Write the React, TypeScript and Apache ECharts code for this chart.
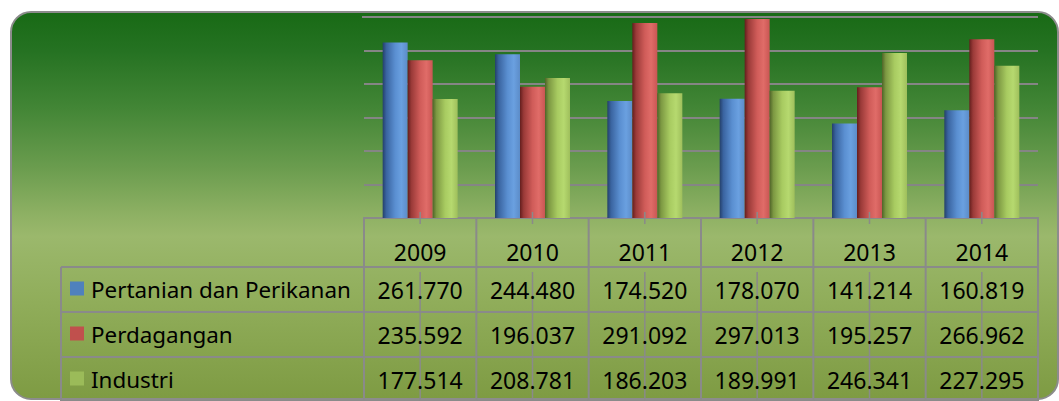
import React, { useEffect, useRef } from "react";
import * as echarts from "echarts";

const years = ["2009", "2010", "2011", "2012", "2013", "2014"];
const seriesNames = ["Pertanian dan Perikanan", "Perdagangan", "Industri"];
const pertanian = [261.77, 244.48, 174.52, 178.07, 141.214, 160.819];
const perdagangan = [235.592, 196.037, 291.092, 297.013, 195.257, 266.962];
const industri = [177.514, 208.781, 186.203, 189.991, 246.341, 227.295];
const yMin = 0;
const yMax = 300;
const yInterval = 50;

const legendColors = ["#4f81bd", "#c0504d", "#9bbb59"];
const barStops = [
  ["#24406a", "#3a64a0", "#5a8fd1", "#6aa0e0", "#5c8cc8"],
  ["#641e1d", "#9a3a38", "#d05c59", "#e06c68", "#c95653"],
  ["#4f6428", "#7c9842", "#a8cb61", "#b6d96f", "#9fbf5c"],
];

const FONT = '"Noto Sans", "Open Sans", sans-serif';
const FS = 23;
const FS_LEGEND = 22.4;
const LINE = "#8a8a8a";

function grad(stops: string[]) {
  return new echarts.graphic.LinearGradient(1, 0, 0, 0, [
    { offset: 0, color: stops[4] },
    { offset: 0.25, color: stops[3] },
    { offset: 0.5, color: stops[2] },
    { offset: 0.85, color: stops[1] },
    { offset: 1, color: stops[0] },
  ]);
}

export default function App() {
  const ref = useRef<HTMLDivElement>(null);
  useEffect(() => {
    if (!ref.current) return;
    const chart = echarts.init(ref.current, undefined, { renderer: "svg" });
    const allSeries = [pertanian, perdagangan, industri];
    chart.setOption({
      animation: false,
      grid: { left: 364, right: 21, top: 17, bottom: 183, containLabel: false },
      xAxis: {
        type: "category",
        data: years,
        axisLine: { show: true, lineStyle: { color: LINE, width: 2 } },
        axisTick: { show: false },
        axisLabel: {
          show: true,
          margin: 34,
          verticalAlign: "middle",
          color: "#000",
          fontFamily: FONT,
          fontSize: FS,
        },
        splitLine: { show: false },
      },
      yAxis: {
        type: "value",
        min: yMin,
        max: yMax,
        interval: yInterval,
        axisLine: { show: false },
        axisTick: { show: false },
        axisLabel: { show: false },
        splitLine: { show: true, lineStyle: { color: "#858585", width: 2 } },
      },
      series: allSeries.map((d, i) => ({
        name: seriesNames[i],
        type: "bar",
        data: d,
        barWidth: 25,
        barGap: "0%",
        itemStyle: { color: grad(barStops[i]) },
        z: 3,
      })),
    });

    const cx = years.map((y) => chart.convertToPixel({ xAxisIndex: 0 }, y) as number);
    const bw = cx.length > 1 ? cx[1] - cx[0] : 112;
    const axisY = chart.convertToPixel({ yAxisIndex: 0 }, 0) as number;
    const headerBottom = 267;
    const rowH = 45;
    const tableLeft = 61;
    const tableBottom = 402;
    const leftX = cx[0] - bw / 2;
    const rightX = cx[cx.length - 1] + bw / 2;

    const g: any[] = [];
    g.push({
      type: "rect",
      z: -100,
      shape: { x: 11, y: 12, width: 1047, height: 387, r: 20 },
      style: {
        fill: new echarts.graphic.LinearGradient(0, 0, 0, 1, [
          { offset: 0, color: "#186a15" },
          { offset: 0.1, color: "#257222" },
          { offset: 0.25, color: "#438636" },
          { offset: 0.4, color: "#6a9c4e" },
          { offset: 0.52, color: "#8db063" },
          { offset: 0.58, color: "#9bb86c" },
          { offset: 0.75, color: "#90ad5a" },
          { offset: 1, color: "#7e9b43" },
        ]),
        stroke: "#8c8c8c",
        lineWidth: 2,
      },
    });
    g.push({
      type: "line",
      z: 1,
      shape: { x1: 362, y1: 17, x2: leftX, y2: 17 },
      style: { stroke: "#858585", lineWidth: 2 },
    });
    const line = (x1: number, y1: number, x2: number, y2: number, w = 2) =>
      g.push({
        type: "line",
        z: 10,
        shape: { x1, y1, x2, y2 },
        style: { stroke: LINE, lineWidth: w },
      });
    for (let r = 0; r < 3; r++) {
      line(tableLeft, headerBottom + r * rowH, rightX + 1, headerBottom + r * rowH);
    }
    line(tableLeft, tableBottom - 1, rightX + 1, tableBottom - 1);
    line(tableLeft, headerBottom, tableLeft, tableBottom);
    for (let i = 0; i <= years.length; i++) {
      const x = leftX + i * bw;
      line(x, axisY - 1, x, tableBottom);
    }
    cx.forEach((x) => {
      line(x, axisY - 6, x, axisY + 6, 1.5);
      line(x, headerBottom + 5, x, tableBottom, 1.5);
    });
    allSeries.forEach((d, r) => {
      const yc = headerBottom + r * rowH + rowH / 2;
      g.push({
        type: "rect",
        z: 11,
        shape: { x: 70, y: yc - 8, width: 14, height: 14 },
        style: { fill: legendColors[r] },
      });
      g.push({
        type: "text",
        z: 11,
        style: {
          text: seriesNames[r],
          x: 91,
          y: yc,
          fill: "#000",
          fontFamily: FONT,
          fontSize: FS_LEGEND,
          textAlign: "left",
          align: "left",
          textVerticalAlign: "middle",
          verticalAlign: "middle",
        },
      });
      d.forEach((v, i) => {
        g.push({
          type: "text",
          z: 11,
          style: {
            text: v.toFixed(3),
            x: cx[i],
            y: yc,
            fill: "#000",
            fontFamily: FONT,
            fontSize: FS,
            textAlign: "center",
            align: "center",
            textVerticalAlign: "middle",
            verticalAlign: "middle",
          },
        });
      });
    });
    chart.setOption({ graphic: g });
    return () => chart.dispose();
  }, []);
  return (
    <div
      ref={ref}
      style={{ position: "absolute", left: 0, top: 0, width: 1059, height: 401 }}
    />
  );
}
